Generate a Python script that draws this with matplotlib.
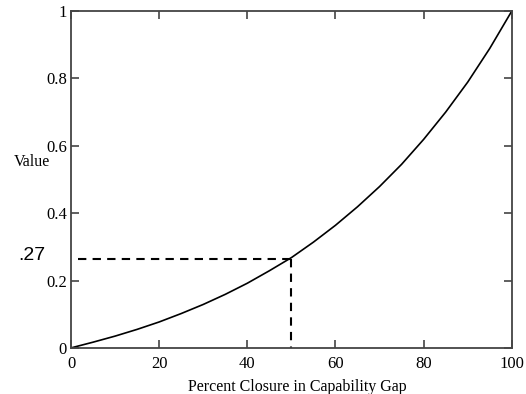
import matplotlib
matplotlib.use('Agg')
import matplotlib.pyplot as plt

# values
closure = [0, 5, 10, 15, 20, 25, 30, 35, 40, 45, 50,
           55, 60, 65, 70, 75, 80, 85, 90, 95, 100]
value = [0.0, 0.017, 0.035, 0.055, 0.077, 0.102, 0.129, 0.159, 0.192, 0.229, 0.268,
         0.314, 0.364, 0.419, 0.479, 0.545, 0.619, 0.700, 0.789, 0.889, 1.0]

mark_x = 50
mark_y = 0.265
x_ticks = [0, 20, 40, 60, 80, 100]
y_ticks = [0, 0.2, 0.4, 0.6, 0.8, 1]
y_tick_labels = ['0', '0.2', '0.4', '0.6', '0.8', '1']

plt.rcParams['font.family'] = ['Liberation Serif', 'DejaVu Serif']

fig = plt.figure(figsize=(5.26, 3.94), dpi=100)
ax = fig.add_axes([0.135, 0.117, 0.838, 0.855])

ax.plot(closure, value, color='black', lw=1.2)
ax.plot([1.5, mark_x], [mark_y, mark_y], color='black', lw=1.5, ls=(0, (4, 3)))
ax.plot([mark_x, mark_x], [mark_y, 0], color='black', lw=1.5, ls=(0, (4, 3)))

ax.set_xlim(0, 100)
ax.set_ylim(0, 1)
ax.set_xticks(x_ticks)
ax.set_xticklabels([str(t) for t in x_ticks])
ax.set_yticks(y_ticks)
ax.set_yticklabels(y_tick_labels)
ax.tick_params(direction='in', length=6, width=1.2, color='#444444',
               top=True, right=True, labelsize=12, pad=3)
ax.tick_params(axis='x', pad=6)
for s in ax.spines.values():
    s.set_color('#444444')
    s.set_linewidth(1.3)

ax.set_xlabel('Percent Closure in Capability Gap', fontsize=11.5, labelpad=5, x=0.514)
ax.text(-0.048, 0.552, 'Value', transform=ax.transAxes, ha='right', va='center',
        fontsize=11.5)
ax.text(-0.059, 0.275, '.27', transform=ax.transAxes, ha='right', va='center',
        fontsize=14, family=['Liberation Sans', 'DejaVu Sans'])

fig.savefig('out.png', dpi=100)
